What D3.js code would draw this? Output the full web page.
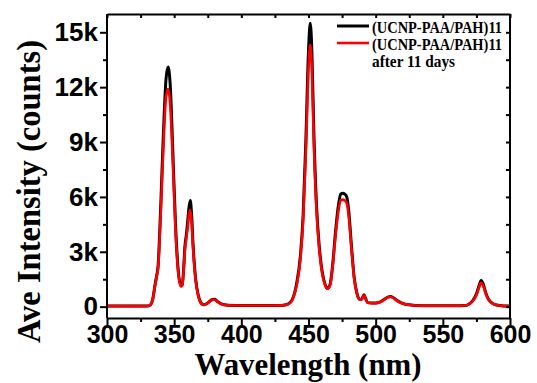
<!DOCTYPE html>
<html>
<head>
<meta charset="utf-8">
<script src="https://cdn.jsdelivr.net/npm/d3@7"></script>
<style>
  html, body { margin: 0; padding: 0; background: #fff; }
  svg { display: block; }
</style>
</head>
<body>
<svg id="chart" width="537" height="383"></svg>
<script>
// ---- data ----
const wavelength = [300,310,320,330,332,334,336,337,338,340,342,344,345.5,347,349,351,353,355,356,357,358,359,360,361,362,363,364,366,368,370,372,375,378,380,382,385,390,400,420,430,435,438,441,444,446,448,450,451.3,452.5,454,456,458,460,462,464,466,468,470,472,474,475.5,477,478.5,480,482,484,486,488,489.5,491.3,492.5,494,497,500,503,506,509,511,513,516,520,525,530,540,560,566,569,572,575,577,578.5,580,582,584,587,590,595,600];
const original = [30,30,30,40,80,400,1300,1700,2200,5500,9500,12500,13100,12200,8500,4500,2000,1150,1200,2000,3300,3900,4600,5400,5800,5000,3500,1500,600,200,100,200,380,400,300,150,80,60,60,70,150,400,1200,2800,5000,9000,14000,15500,14000,9500,5500,3300,2000,1300,1000,1200,2300,4000,5400,6150,6200,6150,6000,5200,3300,1600,750,400,400,650,450,220,200,200,250,380,520,560,500,330,180,100,60,50,50,60,120,300,700,1150,1430,1250,750,400,180,90,40,30];
const after11 = [30,30,30,40,80,380,1250,1650,2100,5100,8800,11500,11900,11100,7900,4200,1900,1100,1150,1900,3100,3700,4300,5000,5300,4600,3300,1450,580,190,100,190,360,380,290,140,80,60,60,70,140,380,1100,2600,4700,8400,13000,14300,13000,8900,5200,3150,1900,1250,980,1150,2200,3800,5100,5800,5850,5800,5650,4900,3150,1550,730,390,390,620,430,210,190,190,240,360,500,540,480,320,170,100,60,50,50,60,110,280,640,1050,1300,1150,700,380,170,90,40,30];
const xTicks = [300,350,400,450,500,550,600];
const yTicks = [0,3000,6000,9000,12000,15000];
const seriesNames = ["(UCNP-PAA/PAH)11", "(UCNP-PAA/PAH)11"];
const legendExtra = "after 11 days";
const xTitle = "Wavelength (nm)";
const yTitle = "Ave Intensity (counts)";

// ---- layout ----
const L = 107, R = 510, T = 14, B = 318;
const svg = d3.select("#chart");

const x = d3.scaleLinear().domain([300, 600]).range([L, R]);
const y = d3.scaleLinear().domain([-620, 16000]).range([B, T]);

const xMinor = d3.range(325, 600, 50);
const yMinor = d3.range(1500, 16000, 3000);

const tickFont = "'Liberation Sans', Arial, sans-serif";
const serif = "'Liberation Serif', 'Times New Roman', serif";

// clip
svg.append("defs").append("clipPath").attr("id", "clip")
  .append("rect").attr("x", L).attr("y", T).attr("width", R - L).attr("height", B - T);

// lines
const lineGen = (vals) => d3.line()
  .x((d, i) => x(wavelength[i]))
  .y(d => y(d))
  .curve(d3.curveMonotoneX)(vals);

const g = svg.append("g").attr("clip-path", "url(#clip)");
g.append("path").attr("d", lineGen(original))
  .attr("fill", "none").attr("stroke", "#000").attr("stroke-width", 3).attr("stroke-linejoin", "round");
g.append("path").attr("d", lineGen(after11))
  .attr("fill", "none").attr("stroke", "#ff0000").attr("stroke-width", 2.6).attr("stroke-linejoin", "round");

// axes
function styleAxis(sel) {
  sel.select(".domain").attr("stroke", "#000").attr("stroke-width", 2);
  sel.selectAll(".tick line").attr("stroke", "#000").attr("stroke-width", 2);
}

// bottom
const bx = svg.append("g").attr("transform", `translate(0,${B})`)
  .call(d3.axisBottom(x).tickValues(xTicks).tickSize(7).tickPadding(0).tickSizeOuter(0));
styleAxis(bx);
bx.selectAll("text").attr("font-family", tickFont).attr("font-weight", "bold")
  .attr("font-size", 25).attr("fill", "#000");
svg.append("g").attr("transform", `translate(0,${B})`)
  .call(d3.axisBottom(x).tickValues(xMinor).tickSize(4).tickFormat("").tickSizeOuter(0))
  .call(styleAxis).select(".domain").remove();

// left
const ly = svg.append("g").attr("transform", `translate(${L},0)`)
  .call(d3.axisLeft(y).tickValues(yTicks).tickSize(7).tickPadding(2).tickSizeOuter(0)
    .tickFormat(d => d === 0 ? "0" : (d / 1000) + "k"));
styleAxis(ly);
ly.select(".domain").attr("d", `M0,${B}V${T}`);
ly.selectAll("text").attr("font-family", tickFont).attr("font-weight", "bold")
  .attr("font-size", 26).attr("fill", "#000");
svg.append("g").attr("transform", `translate(${L},0)`)
  .call(d3.axisLeft(y).tickValues(yMinor).tickSize(4).tickFormat("").tickSizeOuter(0))
  .call(styleAxis).select(".domain").remove();

// top (inward ticks)
const tx = svg.append("g").attr("transform", `translate(0,${T})`)
  .call(d3.axisBottom(x).tickValues(xTicks.concat(xMinor)).tickSize(4).tickFormat("").tickSizeOuter(0));
styleAxis(tx);

// right (inward ticks)
const ry = svg.append("g").attr("transform", `translate(${R},0)`)
  .call(d3.axisLeft(y).tickValues(yTicks.concat(yMinor)).tickSize(4).tickFormat("").tickSizeOuter(0));
styleAxis(ry);
ry.select(".domain").attr("d", `M0,${B}V${T}`);

// axis titles
svg.append("text")
  .attr("transform", `translate(40,${(40 + 343) / 2}) rotate(-90)`)
  .attr("text-anchor", "middle")
  .attr("font-family", serif).attr("font-weight", "bold").attr("font-size", 34)
  .attr("textLength", 303).attr("lengthAdjust", "spacingAndGlyphs")
  .attr("fill", "#000")
  .text(yTitle);

svg.append("text")
  .attr("x", 308).attr("y", 375)
  .attr("text-anchor", "middle")
  .attr("font-family", serif).attr("font-weight", "bold").attr("font-size", 32)
  .attr("textLength", 227).attr("lengthAdjust", "spacingAndGlyphs")
  .attr("fill", "#000")
  .text(xTitle);

// legend
const legColors = ["#000", "#ff0000"];
const legY = [26, 43];
seriesNames.forEach((name, i) => {
  svg.append("line").attr("x1", 337).attr("x2", 369).attr("y1", legY[i]).attr("y2", legY[i])
    .attr("stroke", legColors[i]).attr("stroke-width", i === 0 ? 3 : 2.6);
  svg.append("text").attr("x", 372).attr("y", legY[i] + 6.5)
    .attr("font-family", serif).attr("font-weight", "bold").attr("font-size", 16)
    .attr("textLength", 130).attr("lengthAdjust", "spacingAndGlyphs")
    .attr("fill", "#000").text(name);
});
svg.append("text").attr("x", 372).attr("y", 67)
  .attr("font-family", serif).attr("font-weight", "bold").attr("font-size", 16)
  .attr("textLength", 83).attr("lengthAdjust", "spacingAndGlyphs")
  .attr("fill", "#000").text(legendExtra);
</script>
</body>
</html>
